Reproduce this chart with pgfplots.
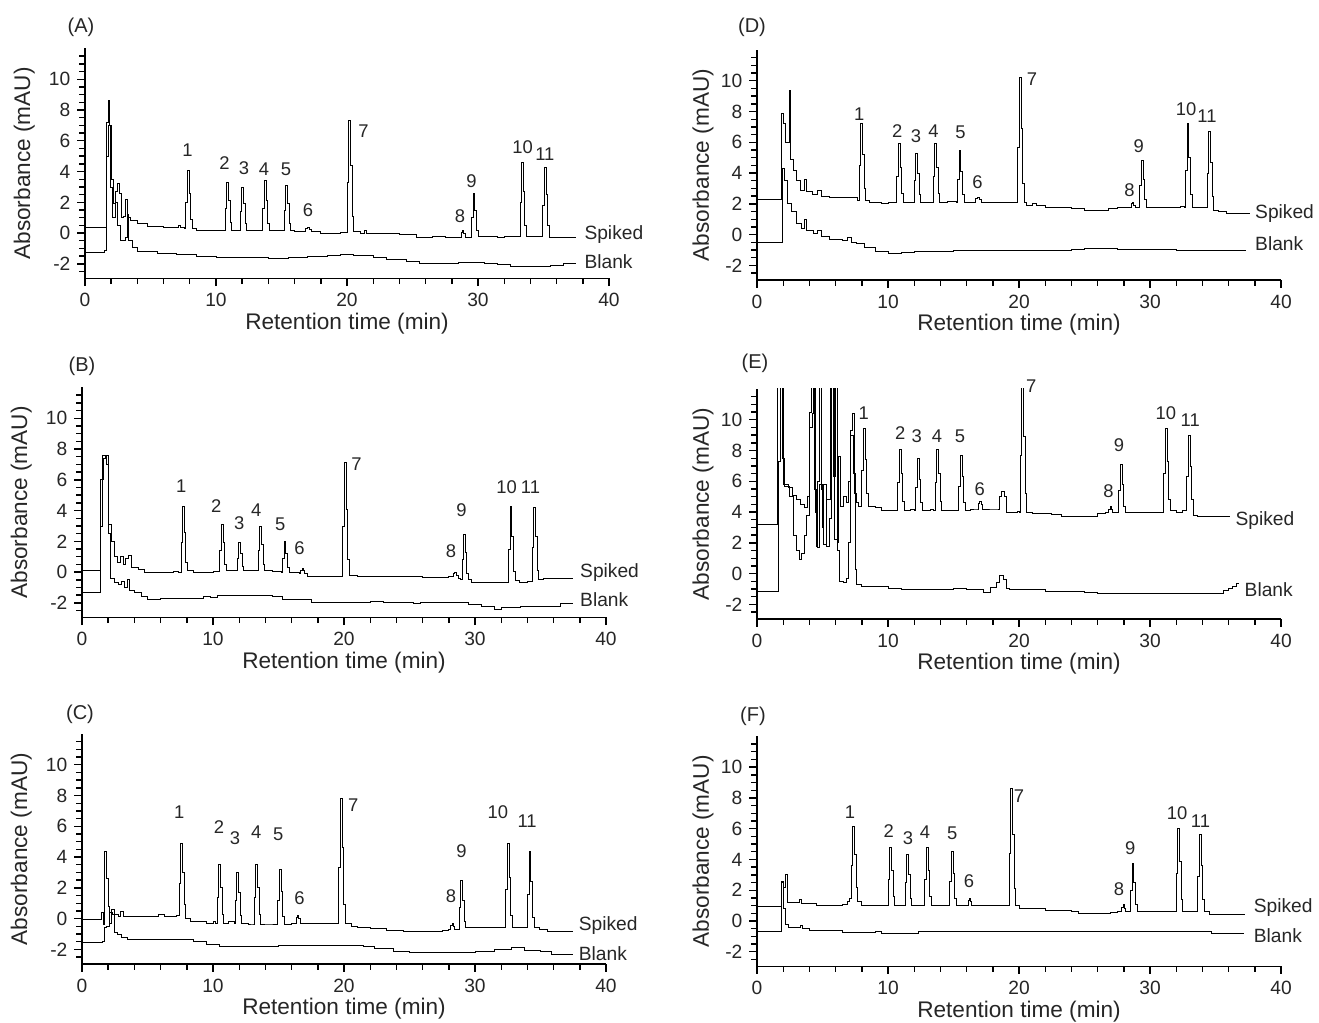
\documentclass[border=0pt]{standalone}
\usepackage{fontspec}
\setmainfont{Liberation Sans}
\usepackage{pgfplots}
\pgfplotsset{compat=1.18}

\pgfplotsset{
  chrom/.style={
    scale only axis, width=262pt, height=115pt,
    xmin=0, xmax=40, ymin=-2.95, ymax=12,
    axis x line*=bottom, axis y line*=left,
    axis line style={line width=0.7pt},
    tick align=outside, tick style={line width=0.7pt, black},
    xtick={0,10,20,30,40}, ytick={-2,0,2,4,6,8,10},
    minor xtick={2,4,...,38}, minor ytick={-2.5,-2,...,11.5},
    major tick length=3.8pt, minor tick length=2.8pt,
    clip mode=individual,
    /pgf/number format/assume math mode=true,
    tick label style={font=\fontsize{9.6}{10}\selectfont, text=black!85},
    label style={font=\fontsize{11.3}{13}\selectfont, text=black!85},
    xlabel={Retention time (min)},
    ylabel={Absorbance (mAU)},
    xlabel style={at={(axis description cs:0.5,-0.195)}, anchor=center},
    const plot,
    cycle list={{black, mark=none, line width=0.9pt}},
  },
  lefty/.style={ylabel style={at={(axis description cs:-0.116,0.5)}, anchor=center}},
  righty/.style={ylabel style={at={(axis description cs:-0.103,0.5)}, anchor=center}},
}
\tikzset{
  pk/.style={font=\fontsize{9.2}{10}\selectfont, inner sep=0pt, text=black!85},
  lab/.style={font=\fontsize{9.6}{11}\selectfont, anchor=west, inner sep=0pt, text=black!85},
  ttl/.style={font=\fontsize{10}{12}\selectfont, inner sep=0pt, text=black!85},
}
\newcommand{\pk}[3]{\node[pk] at (axis cs:#1,#2) {#3};}

\begin{document}
\begin{tikzpicture}
\useasboundingbox (0,0) rectangle (659.5pt,511.5pt);

% ---------- (A) ----------
\begin{axis}[chrom, lefty, at={(42.5pt,372.25pt)}, anchor=south west]
\addplot coordinates {
 (0,0.4) (1.6,7.2) (1.78,8.6) (1.9,7.0) (2.0,3.5) (2.15,1.9) (2.3,2.7) (2.45,3.2) (2.6,2.6) (2.75,1.0) (2.95,1.1) (3.05,2.2) (3.25,1.0) (3.5,0.8) (4.0,0.6) (4.8,0.45) (6.0,0.4) (7.1,0.5) (7.3,0.35)
 (7.6,0.3) (7.7,2.0) (7.82,4.1) (7.96,2.6) (8.08,0.9) (8.2,0.3) (8.5,0.2)
 (10.6,0.2) (10.7,1.6) (10.82,3.3) (10.96,2.1) (11.08,0.7) (11.2,0.2) (11.5,0.15)
 (11.75,0.15) (11.85,1.4) (11.97,3.0) (12.11,1.9) (12.23,0.6) (12.35,0.15)
 (13.45,0.15) (13.55,1.6) (13.67,3.4) (13.81,2.1) (13.93,0.6) (14.05,0.15) (14.5,0.2)
 (15.1,0.15) (15.2,1.5) (15.32,3.1) (15.46,1.9) (15.58,0.6) (15.7,0.15) (16.0,0.1)
 (16.75,0.1) (16.85,0.3) (16.95,0.4) (17.1,0.25) (17.25,0.1) (18.0,0.0) (19.5,0.05)
 (19.9,0.05) (20.0,3.3) (20.12,7.3) (20.26,4.4) (20.38,1.1) (20.5,0.1)
 (21.0,0.0) (21.3,0.15) (21.5,0.0) (22.5,-0.05) (24.0,-0.1) (25.3,-0.25) (26.5,-0.2) (27.5,-0.25)
 (28.6,-0.25) (28.7,0.05) (28.8,0.2) (28.9,0.0) (29.0,-0.25)
 (29.4,-0.25) (29.5,1.0) (29.62,2.6) (29.76,1.5) (29.88,0.2) (30.0,-0.2) (31.0,-0.2) (31.5,-0.3) (32.0,-0.2)
 (33.1,-0.2) (33.2,2.0) (33.32,4.6) (33.46,2.7) (33.58,0.5) (33.7,-0.2) (34.2,-0.2)
 (34.85,-0.2) (34.95,1.8) (35.07,4.3) (35.21,2.5) (35.33,0.5) (35.45,-0.25) (36.0,-0.3) (37.5,-0.3)
};
\addplot coordinates {
 (0,-1.25) (1.5,-1.1) (1.6,5.0) (1.8,7.0) (1.95,3.0) (2.1,1.0) (2.3,2.0) (2.45,0.5) (2.7,-0.5) (3.05,-0.3) (3.2,1.2) (3.35,-0.5) (3.6,-0.9) (4.0,-1.2) (5.5,-1.3) (7.0,-1.4) (8.5,-1.5) (10.0,-1.6) (12.0,-1.55) (13.0,-1.6) (14.0,-1.65) (15.5,-1.55) (17.0,-1.5) (18.5,-1.45) (19.5,-1.4) (20.5,-1.45) (22.0,-1.55) (23.0,-1.7) (24.5,-1.85) (25.5,-2.0) (27.5,-2.0) (28.5,-1.9) (30.5,-1.95) (31.5,-2.05) (32.5,-2.15) (35.5,-2.1) (36.5,-2.0) (37.5,-2.0)
};
\pk{7.83}{5.38}{1} \pk{10.64}{4.58}{2} \pk{12.14}{4.19}{3} \pk{13.67}{4.13}{4} \pk{15.34}{4.13}{5} \pk{17.03}{1.5}{6}
\pk{21.25}{6.6}{7} \pk{28.63}{1.08}{8} \pk{29.5}{3.38}{9} \pk{33.4}{5.6}{10} \pk{35.1}{5.16}{11}
\node[lab] at (axis cs:38.1,-0.1) {Spiked};
\node[lab] at (axis cs:38.1,-1.83) {Blank};
\end{axis}

% ---------- (D) ----------
\begin{axis}[chrom, righty, at={(378.5pt,371.5pt)}, anchor=south west]
\addplot coordinates {
 (0,2.3) (1.9,7.9) (2.05,7.2) (2.2,6.0) (2.45,9.4) (2.55,4.9) (2.75,4.2) (3.0,3.5) (3.3,2.9) (3.6,3.6) (3.8,2.8) (4.2,2.6) (4.6,2.9) (4.9,2.5) (5.5,2.4) (7.5,2.4)
 (7.7,2.2) (7.8,4.5) (7.92,7.25) (8.06,5.2) (8.18,3.0) (8.3,2.2) (8.6,2.1) (9.5,2.0) (10.0,2.1)
 (10.55,2.1) (10.65,3.8) (10.77,5.9) (10.91,4.4) (11.03,2.7) (11.15,2.1) (11.5,2.1)
 (11.9,2.1) (12.0,3.5) (12.12,5.3) (12.26,4.0) (12.38,2.6) (12.5,2.1)
 (13.35,2.1) (13.45,3.8) (13.57,5.9) (13.71,4.4) (13.83,2.7) (13.95,2.1) (14.5,2.15)
 (15.2,2.1) (15.3,3.6) (15.42,5.5) (15.56,4.1) (15.68,2.6) (15.8,2.1)
 (16.6,2.1) (16.7,2.35) (16.8,2.45) (16.95,2.3) (17.1,2.1) (19.7,2.1)
 (19.8,2.1) (19.9,5.7) (20.02,10.2) (20.16,6.9) (20.28,3.3) (20.4,2.1)
 (20.6,1.9) (21.0,2.0) (21.3,1.9) (22.0,1.8) (23.0,1.75) (24.0,1.7) (25.0,1.6) (26.8,1.7) (27.5,1.75) (28.2,1.8)
 (28.45,1.8) (28.55,2.0) (28.65,2.1) (28.75,1.9) (28.85,1.8)
 (29.1,1.8) (29.2,3.2) (29.32,4.8) (29.46,3.6) (29.58,2.3) (29.7,1.8) (30.5,1.75) (31.5,1.8) (32.3,1.85)
 (32.6,1.8) (32.7,4.2) (32.82,7.2) (32.96,5.0) (33.08,2.6) (33.2,1.8) (34.0,1.8)
 (34.25,1.8) (34.35,4.0) (34.47,6.7) (34.61,4.7) (34.73,2.5) (34.85,1.6) (35.2,1.5) (35.8,1.4) (37.6,1.4)
};
\addplot coordinates {
 (0,-0.5) (1.95,4.3) (2.1,3.5) (2.3,2.0) (2.6,1.5) (3.0,0.7) (3.4,0.4) (3.6,1.0) (3.8,0.3) (4.3,0.1) (4.6,0.3) (4.9,-0.1) (5.5,-0.3) (6.5,-0.4) (6.9,-0.2) (7.2,-0.5) (7.6,-0.6) (8.2,-0.8) (9.0,-1.1) (10.0,-1.2) (11.0,-1.15) (12.0,-1.1) (15.0,-1.05) (20.0,-1.05) (22.5,-1.0) (24.0,-0.95) (25.0,-0.9) (27.5,-0.95) (30.0,-0.95) (32.0,-1.0) (37.3,-1.0)
};
\pk{7.8}{7.85}{1} \pk{10.7}{6.75}{2} \pk{12.14}{6.4}{3} \pk{13.48}{6.75}{4} \pk{15.53}{6.68}{5} \pk{16.84}{3.38}{6}
\pk{21.0}{10.1}{7} \pk{28.43}{2.86}{8} \pk{29.14}{5.76}{9} \pk{32.75}{8.18}{10} \pk{34.35}{7.7}{11}
\node[lab] at (axis cs:38.0,1.36) {Spiked};
\node[lab] at (axis cs:38.0,-0.6) {Blank};
\end{axis}

% ---------- (B) ----------
\begin{axis}[chrom, lefty, at={(41pt,202.75pt)}, anchor=south west]
\addplot coordinates {
 (0,0.1) (1.4,3.0) (1.55,7.6) (1.75,7.4) (1.9,7.6) (2.05,3.1) (2.25,2.0) (2.45,1.0) (2.7,0.6) (2.95,1.0) (3.15,0.5) (3.35,0.9) (3.55,1.1) (3.75,0.3) (4.3,0.2) (4.8,0.0) (7.0,0.05) (7.35,0.0)
 (7.45,0.0) (7.55,1.9) (7.67,4.3) (7.81,2.6) (7.93,0.6) (8.05,0.1) (8.5,0.0) (10.0,0.05)
 (10.4,0.05) (10.5,1.4) (10.62,3.1) (10.76,1.9) (10.88,0.5) (11.0,0.1) (11.5,0.1)
 (11.75,0.1) (11.85,0.9) (11.97,1.9) (12.11,1.2) (12.23,0.4) (12.35,0.1)
 (13.35,0.1) (13.45,1.4) (13.57,3.0) (13.71,1.8) (13.83,0.5) (13.95,0.1) (14.5,0.05)
 (15.2,0.0) (15.3,0.9) (15.42,2.0) (15.56,1.2) (15.68,0.3) (15.8,0.0)
 (16.6,-0.1) (16.7,0.1) (16.8,0.25) (16.9,0.1) (17.0,-0.1) (17.2,-0.3) (19.7,-0.3)
 (19.8,-0.3) (19.9,3.0) (20.02,7.1) (20.16,4.1) (20.28,0.8) (20.4,-0.2)
 (21.0,-0.25) (23.5,-0.3) (26.0,-0.35) (28.0,-0.3)
 (28.25,-0.3) (28.35,-0.1) (28.45,0.0) (28.55,-0.2) (28.7,-0.4)
 (28.9,-0.5) (29.0,0.8) (29.12,2.45) (29.26,1.3) (29.38,-0.1) (29.5,-0.5) (29.7,-0.7) (32.3,-0.7)
 (32.45,-0.7) (32.55,1.5) (32.67,4.3) (32.81,2.3) (32.93,0.05) (33.05,-0.55) (33.4,-0.65) (34.0,-0.6)
 (34.25,-0.6) (34.35,1.6) (34.47,4.2) (34.61,2.3) (34.73,0.1) (34.85,-0.5) (35.2,-0.4) (37.5,-0.4)
};
\addplot coordinates {
 (0,-1.3) (1.4,6.0) (1.6,7.4) (1.9,7.0) (2.05,2.5) (2.2,-0.4) (2.5,-0.7) (2.8,-0.8) (3.0,-0.6) (3.2,-1.0) (3.45,-0.5) (3.65,-1.2) (4.0,-1.3) (4.5,-1.55) (5.0,-1.75) (6.0,-1.7) (9.3,-1.55) (9.8,-1.65) (10.3,-1.5) (14.5,-1.6) (15.3,-1.75) (17.5,-1.95) (22.0,-1.9) (23.0,-1.95) (25.3,-2.05) (25.8,-1.95) (27.5,-2.0) (29.5,-2.1) (30.5,-2.25) (31.5,-2.4) (32.0,-2.3) (33.5,-2.2) (36.5,-2.05) (37.5,-2.05)
};
\pk{7.58}{5.56}{1} \pk{10.24}{4.31}{2} \pk{12.0}{3.19}{3} \pk{13.3}{4.05}{4} \pk{15.14}{3.08}{5} \pk{16.6}{1.57}{6}
\pk{20.96}{7.0}{7} \pk{28.16}{1.36}{8} \pk{28.96}{4.05}{9} \pk{32.42}{5.5}{10} \pk{34.24}{5.5}{11}
\node[lab] at (axis cs:38.0,0.0) {Spiked};
\node[lab] at (axis cs:38.0,-1.77) {Blank};
\end{axis}

% ---------- (E) ----------
\begin{axis}[chrom, righty, at={(378.5pt,202pt)}, anchor=south west]
\addplot coordinates {
 (0,3.2) (1.55,12.5) (2.0,5.8) (2.4,5.6) (2.7,5.1) (3.0,4.8) (3.3,4.5) (3.6,4.3) (3.85,5.0) (4.0,10.5) (4.15,12.5) (4.4,5.5) (4.5,1.8) (4.6,6.0) (4.75,12.5) (4.9,5.5) (5.1,1.9) (5.3,4.8) (5.6,12.5) (5.8,6.3) (6.0,12.5) (6.1,2.0) (6.25,7.6) (6.4,4.4) (6.6,5.0) (6.8,4.6) (7.0,6.0) (7.15,9.3) (7.3,10.4) (7.45,5.2) (7.6,4.6) (7.75,4.4)
 (7.9,4.4) (8.0,6.7) (8.12,9.45) (8.26,7.4) (8.38,5.2) (8.5,4.4) (9.0,4.3) (9.5,4.1) (10.5,4.1)
 (10.65,4.1) (10.75,5.9) (10.87,8.05) (11.01,6.5) (11.13,4.7) (11.25,4.1) (11.7,4.15)
 (12.0,4.1) (12.1,5.6) (12.22,7.5) (12.36,6.1) (12.48,4.6) (12.6,4.1) (13.2,4.15)
 (13.5,4.1) (13.6,5.9) (13.72,8.05) (13.86,6.5) (13.98,4.7) (14.1,4.1) (14.8,4.1)
 (15.3,4.1) (15.4,5.7) (15.52,7.7) (15.66,6.3) (15.78,4.6) (15.9,4.1) (16.3,4.2)
 (16.8,4.2) (16.9,4.55) (17.0,4.7) (17.1,4.5) (17.2,4.2)
 (18.3,4.2) (18.5,5.0) (18.65,5.35) (18.85,5.0) (19.0,4.0) (19.9,4.05)
 (20.0,4.0) (20.1,7.7) (20.22,12.2) (20.36,8.9) (20.48,5.2) (20.6,4.0)
 (21.0,3.9) (22.5,3.85) (23.2,3.75) (26.0,3.9) (26.6,3.95)
 (26.75,3.95) (26.85,4.2) (26.95,4.35) (27.05,4.2) (27.15,3.95)
 (27.5,3.95) (27.6,5.4) (27.72,7.1) (27.86,5.8) (27.98,4.4) (28.1,3.95) (28.5,4.0) (30.8,4.0)
 (30.95,4.0) (31.05,6.5) (31.17,9.45) (31.31,7.3) (31.43,4.8) (31.55,4.1) (32.0,4.0) (32.5,4.1)
 (32.7,4.1) (32.8,6.3) (32.92,9.0) (33.06,7.0) (33.18,4.8) (33.3,3.8) (33.6,3.7) (36.1,3.7)
};
\addplot coordinates {
 (0,-1.15) (1.6,7.3) (1.75,12.5) (1.95,7.5) (2.1,5.7) (2.5,5.0) (2.8,2.5) (3.0,1.5) (3.2,0.9) (3.4,1.3) (3.6,2.5) (3.8,3.8) (4.0,9.5) (4.2,10.4) (4.3,12.5) (4.45,4.0) (4.6,1.7) (4.8,5.8) (5.0,3.0) (5.1,5.8) (5.3,1.8) (5.5,3.6) (5.7,12.5) (5.9,2.2) (6.1,1.5) (6.3,-0.5) (6.6,-0.55) (6.8,-0.3) (7.0,2.0) (7.15,9.0) (7.35,6.5) (7.5,0.3) (7.6,-0.7) (8.0,-0.8) (9.0,-0.85) (10.0,-0.95) (11.0,-1.0) (15.0,-0.95) (16.0,-1.0) (17.3,-1.2) (17.8,-0.9) (18.3,-0.6) (18.5,-0.1) (18.8,-0.4) (19.0,-0.95) (19.3,-1.0) (22.0,-1.15) (25.0,-1.2) (26.0,-1.3) (35.2,-1.3) (35.6,-1.1) (36.0,-0.95) (36.3,-0.8) (36.6,-0.65) (36.8,-0.65)
};
\pk{8.15}{10.45}{1} \pk{10.93}{9.16}{2} \pk{12.2}{8.94}{3} \pk{13.74}{8.94}{4} \pk{15.5}{8.94}{5} \pk{17.0}{5.52}{6}
\pk{20.93}{12.2}{7} \pk{26.84}{5.35}{8} \pk{27.64}{8.38}{9} \pk{31.21}{10.45}{10} \pk{33.07}{10.0}{11}
\node[lab] at (axis cs:36.5,3.46) {Spiked};
\node[lab] at (axis cs:37.2,-1.02) {Blank};
\end{axis}

% ---------- (C) ----------
\begin{axis}[chrom, lefty, at={(41pt,29.5pt)}, anchor=south west]
\addplot coordinates {
 (0,-0.05) (1.5,0.4) (1.6,-0.4) (1.7,4.4) (1.85,2.6) (2.0,0.8) (2.1,-0.3) (2.25,0.6) (2.5,0.3) (2.8,0.15) (2.95,0.5) (3.15,0.15) (5.8,0.3) (6.3,0.15) (7.2,0.2)
 (7.3,0.2) (7.4,2.3) (7.52,4.9) (7.66,3.0) (7.78,0.9) (7.9,0.0) (8.3,-0.2) (9.5,-0.3) (10.0,-0.2)
 (10.2,-0.3) (10.3,1.4) (10.42,3.5) (10.56,2.0) (10.68,0.3) (10.8,-0.3) (11.2,-0.2)
 (11.6,-0.3) (11.7,1.2) (11.82,3.0) (11.96,1.7) (12.08,0.2) (12.2,-0.3) (12.7,-0.35)
 (13.05,-0.35) (13.15,1.4) (13.27,3.55) (13.41,2.0) (13.53,0.25) (13.65,-0.35) (14.3,-0.35)
 (14.85,-0.4) (14.95,1.2) (15.07,3.2) (15.21,1.8) (15.33,0.15) (15.45,-0.35) (16.0,-0.3)
 (16.25,-0.3) (16.35,0.05) (16.45,0.2) (16.55,0.0) (16.65,-0.3) (19.4,-0.3)
 (19.5,-0.3) (19.6,3.3) (19.72,7.8) (19.86,4.6) (19.98,0.9) (20.1,-0.3)
 (20.6,-0.5) (21.0,-0.55) (22.0,-0.65) (23.2,-0.75) (24.5,-0.8) (26.5,-0.8) (27.5,-0.75) (28.0,-0.7)
 (28.05,-0.7) (28.15,-0.45) (28.25,-0.3) (28.35,-0.5) (28.45,-0.7)
 (28.7,-0.7) (28.8,0.7) (28.92,2.5) (29.06,1.2) (29.18,-0.2) (29.3,-0.6) (30.0,-0.6) (32.1,-0.6)
 (32.25,-0.6) (32.35,1.9) (32.47,4.9) (32.61,2.7) (32.73,0.2) (32.85,-0.55) (33.5,-0.6)
 (33.9,-0.6) (34.0,1.6) (34.12,4.35) (34.26,2.4) (34.38,0.1) (34.5,-0.55) (34.9,-0.7) (35.5,-0.85) (37.5,-0.85)
};
\addplot coordinates {
 (0,-1.55) (1.55,-1.45) (1.7,-0.6) (1.9,-0.5) (2.1,0.4) (2.3,0.3) (2.5,-0.9) (2.7,-1.0) (3.0,-1.25) (3.5,-1.35) (7.0,-1.35) (8.5,-1.45) (9.5,-1.65) (10.5,-1.8) (15.0,-1.75) (21.5,-1.8) (22.3,-1.95) (23.8,-2.1) (25.0,-2.2) (30.0,-2.1) (31.5,-2.0) (32.8,-1.9) (33.8,-2.05) (35.0,-2.15) (35.8,-2.3) (37.5,-2.3)
};
\pk{7.42}{6.9}{1} \pk{10.46}{5.97}{2} \pk{11.68}{5.22}{3} \pk{13.31}{5.65}{4} \pk{14.98}{5.47}{5} \pk{16.6}{1.34}{6}
\pk{20.7}{7.37}{7} \pk{28.16}{1.44}{8} \pk{28.96}{4.4}{9} \pk{31.74}{6.9}{10} \pk{33.98}{6.34}{11}
\node[lab] at (axis cs:37.9,-0.43) {Spiked};
\node[lab] at (axis cs:37.9,-2.26) {Blank};
\end{axis}

% ---------- (F) ----------
\begin{axis}[chrom, righty, at={(378.5pt,28.3pt)}, anchor=south west]
\addplot coordinates {
 (0,0.95) (1.85,2.6) (2.0,2.2) (2.15,3.0) (2.35,1.2) (3.2,1.4) (3.4,1.15) (4.5,1.0) (6.5,1.1) (6.9,1.3) (7.05,1.5)
 (7.1,1.5) (7.2,3.6) (7.32,6.15) (7.46,4.3) (7.58,2.2) (7.7,1.3) (8.0,1.0)
 (9.9,1.0) (10.0,2.7) (10.12,4.8) (10.26,3.3) (10.38,1.6) (10.5,1.0)
 (11.2,1.0) (11.3,2.5) (11.42,4.3) (11.56,3.0) (11.68,1.5) (11.8,1.0)
 (12.7,1.0) (12.8,2.7) (12.92,4.8) (13.06,3.3) (13.18,1.6) (13.3,1.0)
 (14.6,1.0) (14.7,2.6) (14.82,4.5) (14.96,3.1) (15.08,1.5) (15.2,1.0)
 (16.0,1.0) (16.1,1.35) (16.2,1.5) (16.3,1.3) (16.4,1.0) (19.0,1.0)
 (19.15,1.0) (19.25,4.4) (19.37,8.6) (19.51,5.6) (19.63,2.1) (19.75,1.0)
 (20.0,0.85) (21.5,0.8) (22.0,0.7) (24.0,0.6) (24.5,0.5) (27.0,0.55) (27.5,0.6)
 (27.75,0.6) (27.85,0.9) (27.95,1.05) (28.05,0.85) (28.15,0.6)
 (28.4,0.6) (28.5,2.0) (28.62,3.75) (28.76,2.5) (28.88,1.1) (29.0,0.6) (29.5,0.6) (31.7,0.6)
 (31.9,0.6) (32.0,3.1) (32.12,6.05) (32.26,3.9) (32.38,1.4) (32.5,0.6) (33.0,0.6)
 (33.55,0.6) (33.65,2.9) (33.77,5.65) (33.91,3.6) (34.03,1.4) (34.15,0.6) (34.5,0.45) (37.2,0.4)
};
\addplot coordinates {
 (0,-0.7) (1.85,2.5) (2.0,0.8) (2.2,-0.2) (2.4,-0.4) (3.3,-0.3) (3.5,-0.5) (4.0,-0.6) (6.5,-0.75) (9.0,-0.65) (9.5,-0.8) (12.3,-0.65) (34.7,-0.8) (37.2,-0.8)
};
\pk{7.1}{7.08}{1} \pk{10.06}{5.84}{2} \pk{11.53}{5.36}{3} \pk{12.83}{5.8}{4} \pk{14.9}{5.69}{5} \pk{16.18}{2.62}{6}
\pk{20.0}{8.11}{7} \pk{27.64}{2.1}{8} \pk{28.5}{4.72}{9} \pk{32.07}{7.04}{10} \pk{33.85}{6.48}{11}
\node[lab] at (axis cs:37.9,0.9) {Spiked};
\node[lab] at (axis cs:37.9,-0.92) {Blank};
\end{axis}

% panel titles
\node[ttl] at (40.5pt,498pt) {(A)};
\node[ttl] at (376pt,498pt) {(D)};
\node[ttl] at (41pt,328.5pt) {(B)};
\node[ttl] at (377.5pt,330pt) {(E)};
\node[ttl] at (40pt,154.5pt) {(C)};
\node[ttl] at (376.5pt,153.5pt) {(F)};
\end{tikzpicture}
\end{document}
